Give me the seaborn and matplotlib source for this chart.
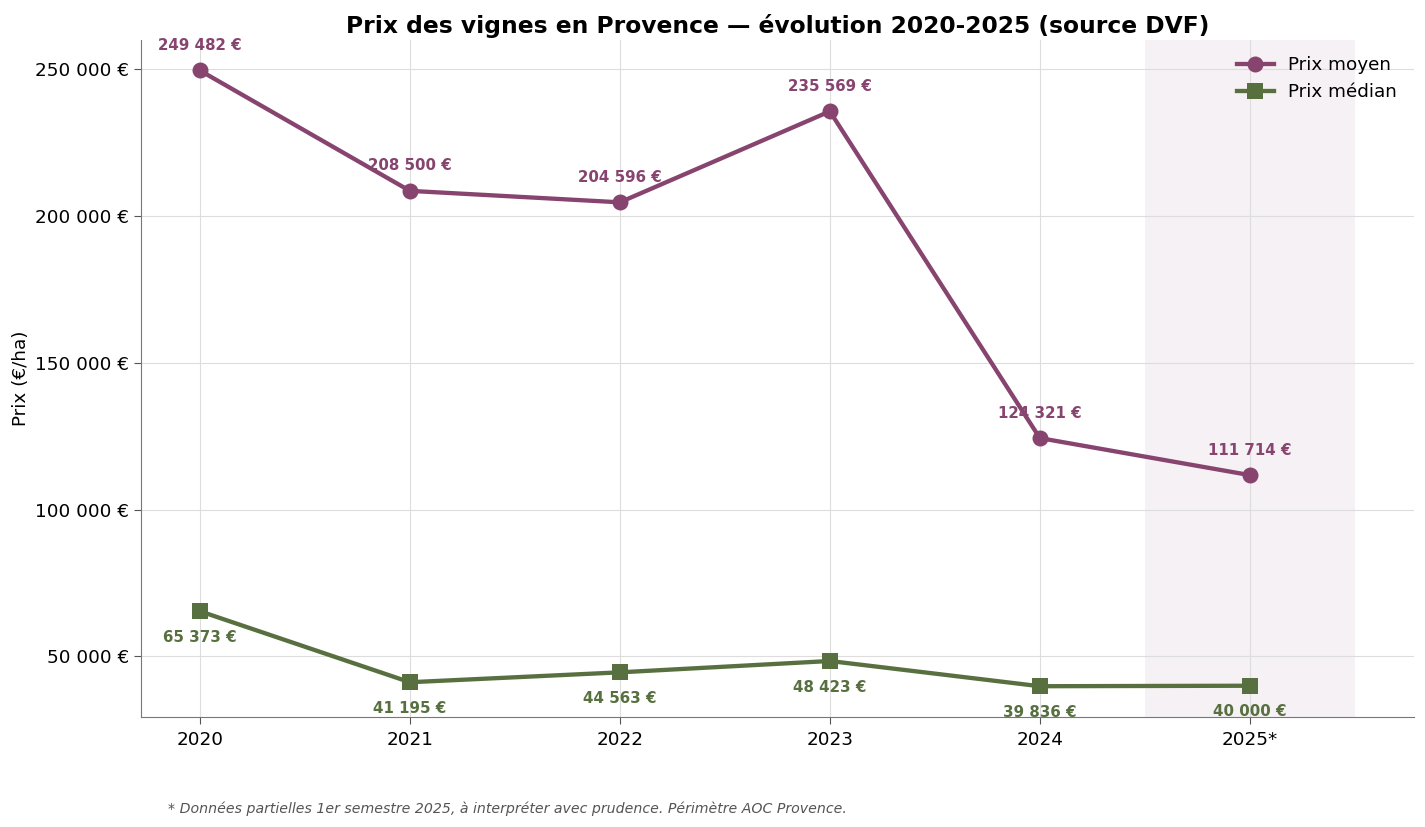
import matplotlib
matplotlib.use("Agg")
import matplotlib.pyplot as plt
import seaborn as sns
import pandas as pd

# Data
years = ["2020", "2021", "2022", "2023", "2024", "2025*"]
prix_moyen = [249482, 208500, 204596, 235569, 124321, 111714]
prix_median = [65373, 41195, 44563, 48423, 39836, 40000]

COL_MOYEN = "#87446E"
COL_MEDIAN = "#587040"


def fmt_eur(v):
    return f"{v:,.0f}".replace(",", " ") + " €"


def plot_prix_vignes(save_path="out.png"):
    df = pd.DataFrame({"annee": years, "moyen": prix_moyen, "median": prix_median})
    df["x"] = range(len(df))

    plt.rcParams["font.family"] = ["DejaVu Sans"]
    fig, ax = plt.subplots(figsize=(14.25, 8.27), dpi=100)

    # partial year shading
    ax.axvspan(4.5, 5.5, color=COL_MOYEN, alpha=0.07, lw=0, zorder=0)

    sns.lineplot(data=df, x="x", y="moyen", ax=ax, color=COL_MOYEN, lw=3.1,
                 marker="o", markersize=11.5, markeredgewidth=0,
                 label="Prix moyen", zorder=3)
    sns.lineplot(data=df, x="x", y="median", ax=ax, color=COL_MEDIAN, lw=3.1,
                 marker="s", markersize=11.5, markeredgewidth=0,
                 label="Prix médian", zorder=3)

    for x, v in zip(df["x"], df["moyen"]):
        ax.annotate(fmt_eur(v), (x, v), xytext=(0, 12.5), textcoords="offset points",
                    ha="center", va="bottom", fontsize=10.8, fontweight="bold",
                    color=COL_MOYEN, zorder=2)
    for x, v in zip(df["x"], df["median"]):
        ax.annotate(fmt_eur(v), (x, v), xytext=(0, -13.5), textcoords="offset points",
                    ha="center", va="top", fontsize=10.8, fontweight="bold",
                    color=COL_MEDIAN, zorder=2)

    ax.set_xticks(df["x"])
    ax.set_xticklabels(years, fontsize=13.2)
    ax.set_xlim(-0.28, 5.78)
    ax.yaxis.set_major_formatter(plt.FuncFormatter(lambda v, p: fmt_eur(v)))
    ax.tick_params(axis="y", labelsize=13.2)
    ax.tick_params(length=5, color="#555555")
    ax.tick_params(axis="x", pad=5)
    ax.set_xlabel("")
    ax.set_ylabel("Prix (€/ha)", fontsize=13.2)
    ax.set_title("Prix des vignes en Provence — évolution 2020-2025 (source DVF)",
                 fontsize=16.8, fontweight="bold", pad=5)

    ax.grid(True, color="#dddddd", lw=0.8)
    ax.set_axisbelow(True)
    sns.despine(ax=ax)
    for s in ("left", "bottom"):
        ax.spines[s].set_color("#777777")

    ax.legend(loc="upper right", frameon=False, fontsize=13.2)

    fig.text(0.118, 0.017,
             "* Données partielles 1er semestre 2025, à interpréter avec prudence. Périmètre AOC Provence.",
             fontsize=10.2, style="italic", color="#555555")

    fig.subplots_adjust(left=0.099, right=0.992, top=0.952, bottom=0.133)
    fig.savefig(save_path, dpi=100)
    return fig


if __name__ == "__main__":
    plot_prix_vignes("out.png")
